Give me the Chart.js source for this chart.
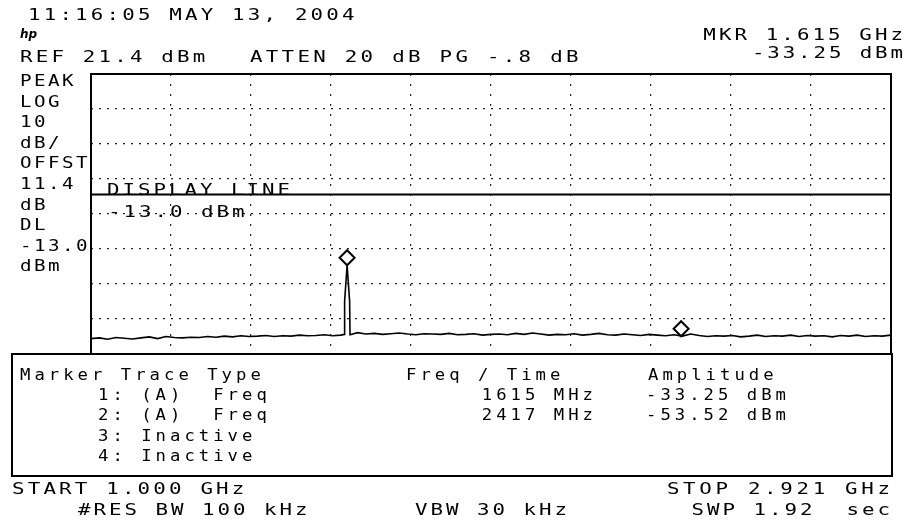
<!DOCTYPE html>
<html>
<head>
<meta charset="utf-8">
<script src="https://cdn.jsdelivr.net/npm/chart.js@4/dist/chart.umd.min.js"></script>
<style>
    body { margin: 0; background: #fff; }
    canvas { display: block; }
</style>
</head>
<body>
<canvas id="screen" width="909" height="523"></canvas>
<script>
// sweep settings (MHz) and display scale (dBm)
const startMHz = 1000
const stopMHz = 2921
const refLevel = 21.4
const dbPerDiv = 10
const displayLine = -13.0

// trace
const traceFreqs = [
    1000, 1020, 1040, 1060, 1080, 1100, 1120, 1140, 1160, 1180,
    1200, 1220, 1240, 1260, 1280, 1300, 1320, 1340, 1360, 1380,
    1400, 1420, 1440, 1460, 1480, 1500, 1520, 1540, 1560, 1580,
    1600, 1608, 1609, 1615, 1621, 1622, 1640, 1660, 1680, 1700,
    1720, 1740, 1760, 1780, 1800, 1820, 1840, 1860, 1880, 1900,
    1920, 1940, 1960, 1980, 2000, 2020, 2040, 2060, 2080, 2100,
    2120, 2140, 2160, 2180, 2200, 2220, 2240, 2260, 2280, 2300,
    2320, 2340, 2360, 2380, 2400, 2420, 2440, 2460, 2480, 2500,
    2520, 2540, 2560, 2580, 2600, 2620, 2640, 2660, 2680, 2700,
    2720, 2740, 2760, 2780, 2800, 2820, 2840, 2860, 2880, 2900,
    2921
]
const traceLevels = [
    -54.2, -54.0, -54.4, -53.9, -54.1, -54.3, -54.0, -53.7, -54.2, -53.6,
    -53.9, -54.0, -53.8, -53.9, -53.6, -53.8, -53.5, -53.7, -53.4, -53.6,
    -53.5, -53.3, -53.6, -53.4, -53.5, -53.2, -53.4, -53.3, -53.1, -53.4,
    -53.2, -53.0, -43.5, -33.25, -43.5, -53.1, -52.5, -52.9, -52.7, -53.0,
    -52.8, -52.6, -52.9, -53.1, -52.8, -52.9, -53.0, -52.7, -53.1, -53.0,
    -52.8, -53.2, -53.0, -52.9, -53.1, -52.7, -53.0, -52.6, -52.9, -53.2,
    -53.0, -53.1, -52.8, -53.2, -53.0, -52.7, -53.1, -53.2, -52.9, -53.1,
    -53.3, -53.0, -53.2, -53.4, -53.1, -53.5, -52.9, -53.3, -53.6, -53.4,
    -53.5, -53.3, -53.7, -53.5, -53.2, -53.6, -53.4, -53.5, -53.2, -53.6,
    -53.3, -53.5, -53.4, -53.7, -53.3, -53.5, -53.2, -53.6, -53.4, -53.5,
    -53.2
]

// markers
const markerFreqs = [1615, 2417]
const markerAmps = [-33.25, -53.52]
const markerRows = ['1: (A)  Freq', '2: (A)  Freq', '3: Inactive', '4: Inactive']

const sideLabels = ['PEAK', 'LOG', '10', 'dB/', 'OFFST', '11.4', 'dB', 'DL', '-13.0', 'dBm']

const bottomMin = refLevel - 8 * dbPerDiv
const xDivs = Array.from({ length: 11 }, (_, i) => startMHz + i * (stopMHz - startMHz) / 10)
const yDivs = Array.from({ length: 9 }, (_, i) => bottomMin + i * dbPerDiv)

const MONO = '"DejaVu Sans Mono", "Liberation Mono", monospace'

// fixed pitch text, glyphs stretched a bit like the analyzer's screen font
function mono(ctx, str, x, y, pitch, right = false, stretch = 1.3) {
    const w = ctx.measureText('M').width * stretch
    let sx = right ? x - (str.length - 1) * pitch - w : x
    for (let i = 0; i < str.length; i++) {
        ctx.save()
        ctx.translate(sx + i * pitch, y)
        ctx.scale(stretch, 1)
        ctx.fillText(str[i], 0, 0)
        ctx.restore()
    }
}

const hpScreen = {
    id: 'hpScreen',
    beforeDraw(chart) {
        const ctx = chart.ctx
        ctx.save()
        ctx.fillStyle = '#fff'
        ctx.fillRect(0, 0, chart.width, chart.height)
        ctx.restore()
    },
    afterDraw(chart) {
        const ctx = chart.ctx
        const area = chart.chartArea
        const xs = chart.scales.x
        const ys = chart.scales.y
        ctx.save()
        ctx.fillStyle = '#000'
        ctx.strokeStyle = '#000'
        ctx.textBaseline = 'alphabetic'

        // graticule frame
        ctx.lineWidth = 2
        ctx.beginPath()
        ctx.moveTo(area.left, area.bottom)
        ctx.lineTo(area.left, area.top)
        ctx.lineTo(area.right, area.top)
        ctx.lineTo(area.right, area.bottom)
        ctx.stroke()

        // marker diamonds sit on top of the marked point
        ctx.lineWidth = 2
        for (let i = 0; i < markerFreqs.length; i++) {
            const px = xs.getPixelForValue(markerFreqs[i])
            const py = ys.getPixelForValue(markerAmps[i])
            const r = 7.5
            ctx.fillStyle = '#fff'
            ctx.beginPath()
            ctx.moveTo(px, py)
            ctx.lineTo(px + r, py - r)
            ctx.lineTo(px, py - 2 * r)
            ctx.lineTo(px - r, py - r)
            ctx.closePath()
            ctx.fill()
            ctx.stroke()
        }
        ctx.fillStyle = '#000'

        // header
        ctx.font = '16px ' + MONO
        mono(ctx, '11:16:05 MAY 13, 2004', 28, 20, 15.7)
        mono(ctx, 'REF ' + refLevel.toFixed(1) + ' dBm', 20, 62, 15.7)
        mono(ctx, 'ATTEN 20 dB PG -.8 dB', 250, 62, 15.8)
        mono(ctx, 'MKR ' + (markerFreqs[0] / 1000).toFixed(3) + ' GHz', 903, 40, 15.6, true)
        mono(ctx, markerAmps[0].toFixed(2) + ' dBm', 903, 58, 15.4, true)

        ctx.font = 'italic bold 12px "DejaVu Sans", sans-serif'
        ctx.fillText('hp', 20, 38)

        // left annotation column
        ctx.font = '16px ' + MONO
        sideLabels.forEach((s, i) => mono(ctx, s, 20, 86 + i * 20.6, 14, false, 1.2))

        // display line label
        const dly = ys.getPixelForValue(displayLine)
        mono(ctx, 'DISPLAY LINE', 107, dly + 1, 15.5)
        mono(ctx, displayLine.toFixed(1) + ' dBm', 108, dly + 23, 15.5)

        // marker table
        ctx.fillStyle = '#fff'
        ctx.fillRect(12, 354, 880, 122)
        ctx.fillStyle = '#000'
        ctx.lineWidth = 2
        ctx.strokeRect(12, 354, 880, 122)

        ctx.font = '15px ' + MONO
        const tp = 14.4
        mono(ctx, 'Marker Trace Type', 20, 380, tp, false, 1.15)
        mono(ctx, 'Freq / Time', 406, 380, tp, false, 1.15)
        mono(ctx, 'Amplitude', 648, 380, tp, false, 1.15)
        const rowY = [400, 420, 441, 461]
        markerRows.forEach((s, i) => {
            mono(ctx, s, 98, rowY[i], tp, false, 1.15)
            if (i < markerFreqs.length) {
                mono(ctx, markerFreqs[i] + ' MHz', 593, rowY[i], tp, true, 1.15)
                mono(ctx, markerAmps[i].toFixed(2) + ' dBm', 786, rowY[i], tp, true, 1.15)
            }
        })

        // footer
        ctx.font = '16px ' + MONO
        mono(ctx, 'START ' + (startMHz / 1000).toFixed(3) + ' GHz', 12, 494, 15.7)
        mono(ctx, 'STOP ' + (stopMHz / 1000).toFixed(3) + ' GHz', 890, 494, 16.2, true)
        mono(ctx, '#RES BW 100 kHz', 78, 515, 15.5)
        mono(ctx, 'VBW 30 kHz', 415, 515, 15.5)
        mono(ctx, 'SWP 1.92  sec', 890, 515, 15.5, true)

        ctx.restore()
    }
}

new Chart(document.getElementById('screen').getContext('2d'), {
    type: 'line',
    data: {
        datasets: [{
            label: 'Trace A',
            data: traceFreqs.map((f, i) => ({ x: f, y: traceLevels[i] })),
            borderColor: '#000',
            borderWidth: 1.6,
            pointRadius: 0,
            tension: 0
        }, {
            label: 'Display line',
            data: [{ x: startMHz, y: displayLine }, { x: stopMHz, y: displayLine }],
            borderColor: '#000',
            borderWidth: 2,
            pointRadius: 0
        }]
    },
    options: {
        responsive: false,
        animation: false,
        layout: {
            padding: { left: 91, right: 18, top: 74, bottom: 169 }
        },
        plugins: {
            legend: { display: false },
            tooltip: { enabled: false }
        },
        scales: {
            x: {
                type: 'linear',
                min: startMHz,
                max: stopMHz,
                afterBuildTicks: s => { s.ticks = xDivs.map(v => ({ value: v })) },
                afterFit: s => { s.height = 0 },
                ticks: { display: false },
                grid: { color: '#222', lineWidth: 1.2, drawTicks: false },
                border: { display: false, dash: [2, 8] }
            },
            y: {
                type: 'linear',
                min: bottomMin,
                max: refLevel,
                afterBuildTicks: s => { s.ticks = yDivs.map(v => ({ value: v })) },
                afterFit: s => { s.width = 0 },
                ticks: { display: false },
                grid: { color: '#222', lineWidth: 1.2, drawTicks: false },
                border: { display: false, dash: [2, 6] }
            }
        }
    },
    plugins: [hpScreen]
})
</script>
</body>
</html>
